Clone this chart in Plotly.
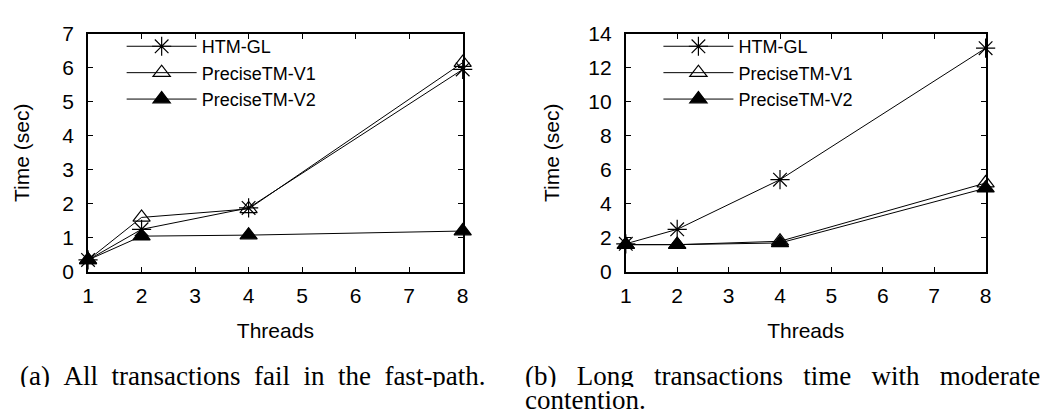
import plotly.graph_objects as go

W, H = 1044, 418

threads = [1, 2, 4, 8]
x_ticks = [1, 2, 3, 4, 5, 6, 7, 8]

# (a) All transactions fail in the fast-path
a_htm = [0.35, 1.25, 1.88, 5.95]
a_v1 = [0.35, 1.60, 1.85, 6.15]
a_v2 = [0.35, 1.05, 1.08, 1.20]

# (b) Long transactions with moderate contention
b_htm = [1.65, 2.50, 5.42, 13.15]
b_v1 = [1.60, 1.60, 1.80, 5.22]
b_v2 = [1.60, 1.60, 1.70, 4.92]

series_names = ["HTM-GL", "PreciseTM-V1", "PreciseTM-V2"]
symbols = ["asterisk-open", "triangle-up-open", "triangle-up"]
marker_sizes = [16, 15, 15]

caption_a = "(a) All transactions fail in the fast-path."
caption_b1 = "(b) Long transactions time with moderate"
caption_b2 = "contention."

FONT = "Liberation Sans, Arial, sans-serif"
SERIF = "Liberation Serif, Times New Roman, serif"
FS = 21
LFS = 18
CFS = 27

fig = go.Figure()

def add_panel(ys, xa, ya, legend):
    for name, y, sym, ms in zip(series_names, ys, symbols, marker_sizes):
        fig.add_trace(go.Scatter(
            x=threads, y=y, name=name, mode="lines+markers",
            line=dict(color="black", width=1),
            marker=dict(symbol=sym, size=ms, color="black",
                        line=dict(color="black", width=1.2)),
            xaxis=xa, yaxis=ya, legend=legend, cliponaxis=False,
        ))

add_panel([a_htm, a_v1, a_v2], "x", "y", "legend")
add_panel([b_htm, b_v1, b_v2], "x2", "y2", "legend2")

def px_x(p):
    return p / W

def px_y(p):
    return 1 - p / H

def spaced(s, n):
    return s.replace(" ", "\u00a0" * n)

axis_common = dict(
    showline=True, linecolor="black", linewidth=2, mirror="allticks",
    ticks="inside", ticklen=5, tickwidth=1, tickcolor="black",
    showgrid=False, zeroline=False,
    tickfont=dict(family=FONT, size=FS, color="black"),
)
title_font = dict(family=FONT, size=FS, color="black")

ydom = [px_y(275), px_y(23)]

fig.update_layout(
    width=W, height=H,
    margin=dict(l=0, r=0, t=0, b=0),
    paper_bgcolor="white", plot_bgcolor="white",
    font=dict(family=FONT, size=FS, color="black"),
    xaxis=dict(domain=[px_x(83), px_x(462)], range=[1, 8], tickvals=x_ticks,
               title=dict(text="Threads", standoff=17, font=title_font),
               anchor="y", ticklabelstandoff=4, **axis_common),
    yaxis=dict(domain=ydom, range=[0, 7], dtick=1,
               title=dict(text="Time (sec)", standoff=27, font=title_font),
               anchor="x", ticklabelstandoff=8, **axis_common),
    xaxis2=dict(domain=[px_x(627), px_x(991)], range=[1, 8], tickvals=x_ticks,
                title=dict(text="Threads", standoff=17, font=title_font),
                anchor="y2", ticklabelstandoff=4, **axis_common),
    yaxis2=dict(domain=ydom, range=[0, 14], dtick=2,
                title=dict(text="Time (sec)", standoff=23, font=title_font),
                anchor="x2", ticklabelstandoff=8, **axis_common),
    legend=dict(x=px_x(117), y=px_y(17), xanchor="left", yanchor="top",
                bgcolor="rgba(0,0,0,0)", itemwidth=70, tracegroupgap=0,
                font=dict(family=FONT, size=LFS, color="black")),
    legend2=dict(x=px_x(660), y=px_y(17), xanchor="left", yanchor="top",
                 bgcolor="rgba(0,0,0,0)", itemwidth=70, tracegroupgap=0,
                 font=dict(family=FONT, size=LFS, color="black")),
    showlegend=True,
)

cap_font = dict(family=SERIF, size=CFS, color="black")
fig.add_annotation(text=spaced(caption_a, 2),
                   x=px_x(250), y=px_y(385), xref="paper", yref="paper",
                   xanchor="center", yanchor="middle", showarrow=False,
                   height=22, font=cap_font)
fig.add_annotation(text=spaced(caption_b1, 3),
                   x=px_x(523), y=px_y(385), xref="paper", yref="paper",
                   xanchor="left", yanchor="middle", showarrow=False,
                   height=22, font=cap_font)
fig.add_annotation(text=caption_b2,
                   x=px_x(523), y=px_y(411), xref="paper", yref="paper",
                   xanchor="left", yanchor="middle", showarrow=False,
                   height=22, font=cap_font)

fig.write_html("out.html")
